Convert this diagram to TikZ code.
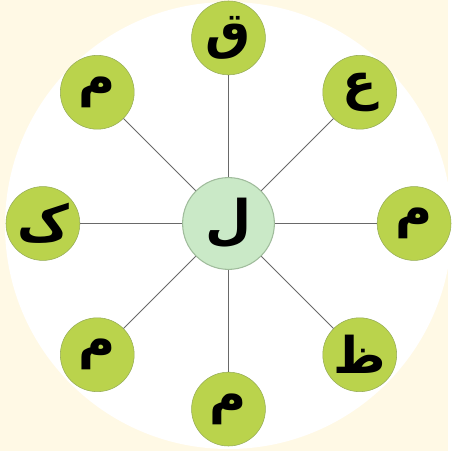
\documentclass[tikz,border=0pt]{standalone}
\usepackage{fontspec}
\usepackage{xcolor}
\usepackage{tikz}
\usetikzlibrary{calc}
\TeXXeTstate=1
\newfontfamily\urdufont[Script=Arabic]{DejaVu Sans}
\definecolor{bgcream}{RGB}{255,249,229}
\definecolor{leafgreen}{RGB}{186,211,76}
\definecolor{leafedge}{RGB}{150,172,86}
\definecolor{hubgreen}{RGB}{202,233,199}
\definecolor{hubedge}{RGB}{160,188,156}
\definecolor{spokegray}{RGB}{105,105,105}

\begin{document}
\begin{tikzpicture}[x=0.75pt, y=0.75pt,
    letter/.style={circle, draw=leafedge, fill=leafgreen, minimum size=55.5pt, inner sep=0pt,
        font=\urdufont\bfseries\fontsize{38}{38}\selectfont},
    hubnode/.style={circle, draw=hubedge, thick, fill=hubgreen, minimum size=69pt, inner sep=0pt,
        font=\urdufont\bfseries\fontsize{40}{40}\selectfont},
    spoke/.style={draw=spokegray, line width=0.7pt}]
    % cream page and white disc
    \fill[bgcream] (0,0) rectangle (449,452);
    \fill[white] (229,226) circle (224);
    % centre letter
    \node[hubnode] (hub) at (229,228) {\beginR ل\endR};
    % outer letters with spokes
    \foreach \ang/\ch [count=\i] in {90/ق, 45/ع, 0/م, -45/ظ, -90/م, -135/م, 180/ک, 135/م} {
        \node[letter] (n\i) at ($(hub)+(\ang:186)$) {\beginR\ch\endR};
        \draw[spoke] (hub) -- (n\i);
    }
\end{tikzpicture}
\end{document}
